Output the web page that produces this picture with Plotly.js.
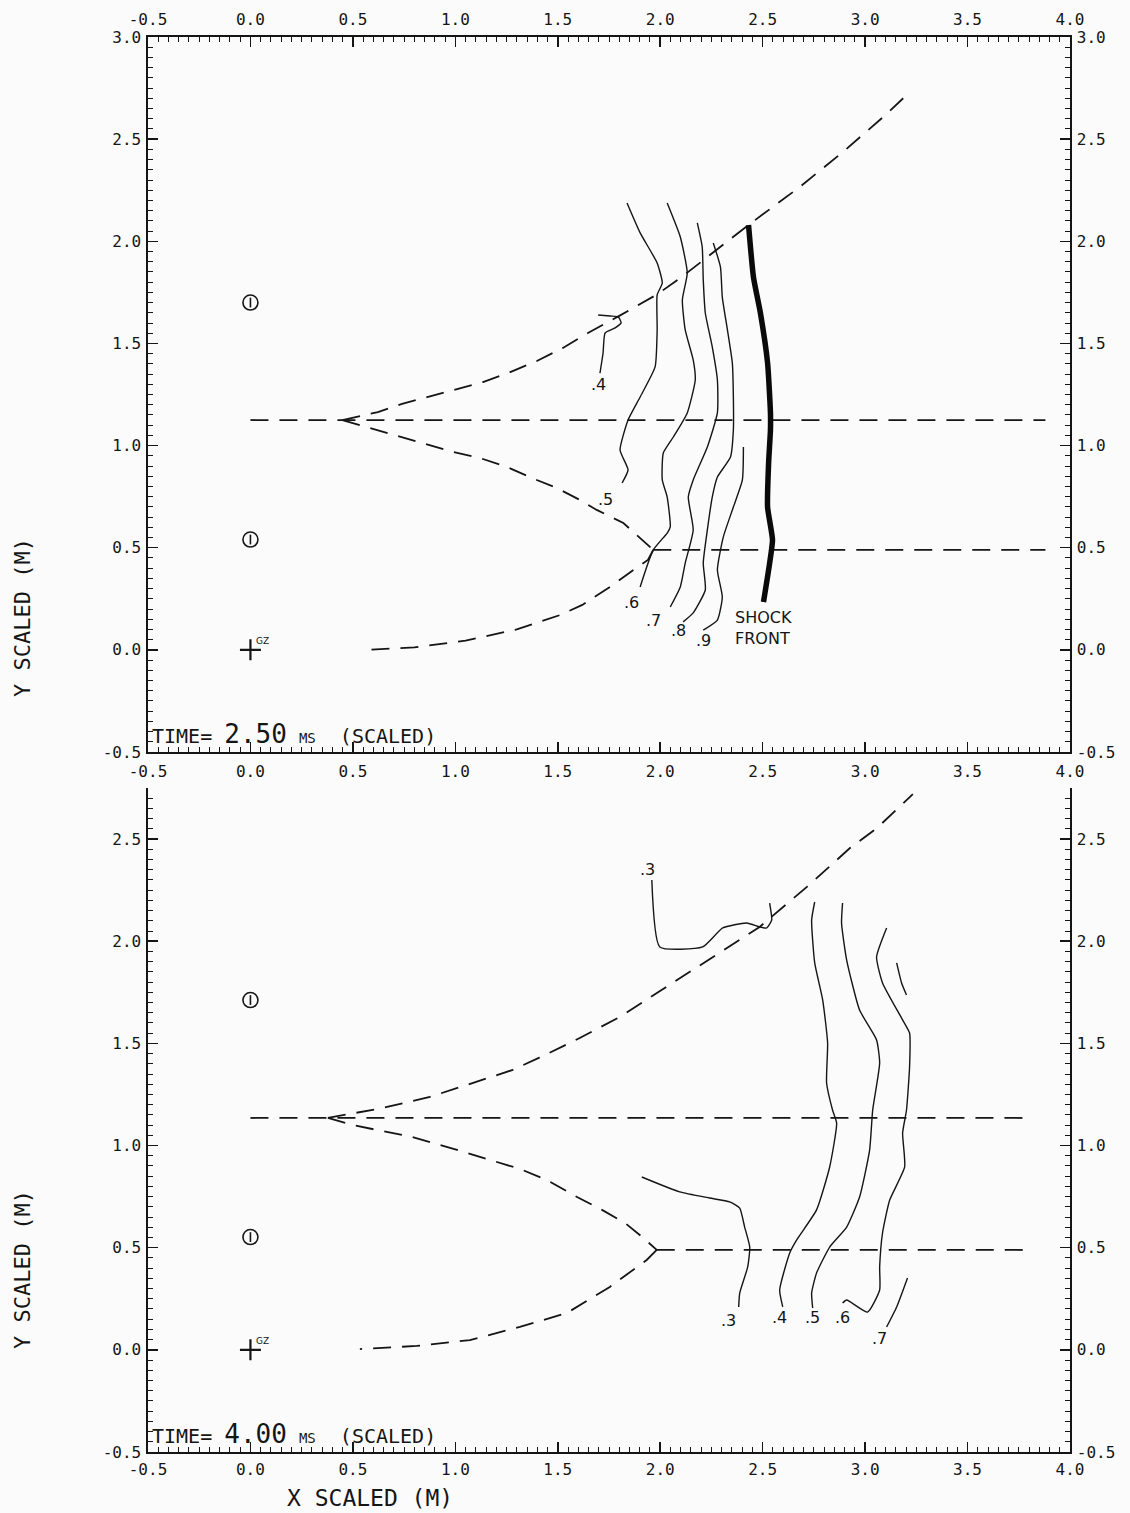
<!DOCTYPE html>
<html>
<head>
<meta charset="utf-8">
<script src="https://cdn.plot.ly/plotly-3.0.1.min.js"></script>
<style>html,body{margin:0;padding:0;background:#fbfbfb;}#chart{width:1130px;height:1513px;}</style>
</head>
<body>
<div id="chart"></div>
<script>
// ---------- tick labels ----------
const xTickVals = [-0.5,0.0,0.5,1.0,1.5,2.0,2.5,3.0,3.5,4.0];
const xTickText = ["-0.5","0.0","0.5","1.0","1.5","2.0","2.5","3.0","3.5","4.0"];
const yTopTickVals = [-0.5,0.0,0.5,1.0,1.5,2.0,2.5,3.0];
const yTopTickText = ["-0.5","0.0","0.5","1.0","1.5","2.0","2.5","3.0"];
const yBotTickVals = [-0.5,0.0,0.5,1.0,1.5,2.0,2.5];
const yBotTickText = ["-0.5","0.0","0.5","1.0","1.5","2.0","2.5"];

// ---------- TOP PANEL (TIME = 2.50 ms) ----------
const topUpperX = [0.449,0.622,0.740,0.862,0.989,1.135,1.257,1.398,1.525,1.647,1.80,1.985,2.111,2.253,2.431,2.68,2.895,3.09,3.208];
const topUpperY = [1.125,1.164,1.204,1.238,1.272,1.311,1.355,1.414,1.478,1.551,1.635,1.74,1.83,1.94,2.08,2.265,2.44,2.61,2.721];
const topLowerX = [0.449,0.666,0.827,0.989,1.120,1.252,1.374,1.496,1.608,1.69,1.82,1.90,1.966];
const topLowerY = [1.125,1.062,1.018,0.969,0.939,0.895,0.841,0.792,0.734,0.685,0.621,0.548,0.489];
const topBottomX = [1.966,1.94,1.89,1.755,1.62,1.51,1.30,1.05,0.80,0.57];
const topBottomY = [0.489,0.44,0.406,0.308,0.22,0.17,0.10,0.045,0.012,0.0];
const topMidX = [0.0,3.88];
const topMidY = [1.125,1.125];
const topStemX = [1.966,3.88];
const topStemY = [0.489,0.489];

const topC4X = [1.706,1.721,1.731,1.78,1.809,1.795,1.756,1.697];
const topC4Y = [1.355,1.453,1.551,1.576,1.60,1.63,1.634,1.639];
const topC5X = [1.838,1.902,1.985,2.010,1.985,1.985,1.975,1.902,1.843,1.804,1.843,1.814];
const topC5Y = [2.187,2.041,1.894,1.796,1.737,1.566,1.385,1.238,1.125,0.978,0.881,0.817];
const topC6X = [2.034,2.098,2.132,2.108,2.122,2.161,2.171,2.132,2.064,2.015,2.010,2.034,2.049,2.034,1.966,1.902];
const topC6Y = [2.187,2.021,1.845,1.713,1.566,1.419,1.321,1.160,1.042,0.964,0.832,0.748,0.602,0.572,0.489,0.308];
const topC7X = [2.181,2.205,2.210,2.220,2.254,2.279,2.279,2.230,2.161,2.137,2.161,2.122,2.098,2.049];
const topC7Y = [2.090,1.972,1.811,1.649,1.483,1.321,1.160,0.993,0.832,0.748,0.587,0.425,0.308,0.210];
const topC8X = [2.259,2.294,2.303,2.328,2.352,2.357,2.357,2.343,2.279,2.254,2.230,2.210,2.220,2.161,2.112];
const topC8Y = [1.992,1.874,1.727,1.566,1.404,1.238,1.076,0.944,0.846,0.748,0.587,0.425,0.293,0.181,0.137];
const topC9X = [2.406,2.401,2.357,2.308,2.279,2.303,2.279,2.210];
const topC9Y = [0.993,0.832,0.699,0.553,0.391,0.259,0.146,0.097];
const shockX = [2.431,2.455,2.489,2.524,2.538,2.538,2.529,2.524,2.548,2.529,2.504];
const shockY = [2.080,1.825,1.649,1.404,1.160,1.076,0.915,0.699,0.538,0.391,0.234];

const topLabelText = [".4",".5",".6",".7",".8",".9"];
const topLabelX = [1.697,1.735,1.862,1.966,2.088,2.210];
const topLabelY = [1.297,0.734,0.234,0.146,0.097,0.048];
const shockLabel = "SHOCK<br>FRONT";
const shockLabelX = 2.357;
const shockLabelY = 0.105;

const topGaugeX = [0.0,0.0];
const topGaugeY = [1.70,0.54];
const gzX = [0.0];
const gzY = [0.0];

// ---------- BOTTOM PANEL (TIME = 4.00 ms) ----------
const botUpperX = [0.378,0.549,0.646,0.876,1.105,1.28,1.41,1.607,1.802,2.046,2.29,2.485,2.716,2.926,3.058,3.233];
const botUpperY = [1.135,1.164,1.184,1.238,1.311,1.37,1.43,1.526,1.629,1.786,1.942,2.07,2.266,2.456,2.554,2.72];
const botLowerX = [0.378,0.50,0.788,1.057,1.316,1.447,1.594,1.716,1.828,1.915,1.983];
const botLowerY = [1.135,1.10,1.042,0.964,0.885,0.831,0.748,0.685,0.621,0.55,0.489];
const botBottomX = [1.983,1.934,1.754,1.544,1.315,1.071,0.812,0.534];
const botBottomY = [0.489,0.44,0.308,0.18,0.112,0.048,0.019,0.004];
const botMidX = [0.0,3.805];
const botMidY = [1.135,1.135];
const botStemX = [1.983,3.805];
const botStemY = [0.489,0.489];

const botC3aX = [1.959,1.998,2.207,2.305,2.422,2.485,2.52,2.544,2.534];
const botC3aY = [2.30,1.972,1.972,2.065,2.089,2.07,2.065,2.104,2.187];
const botC3bX = [1.910,2.095,2.241,2.339,2.388,2.412,2.437,2.427,2.388,2.383];
const botC3bY = [0.846,0.773,0.743,0.724,0.694,0.601,0.503,0.406,0.278,0.21];
const botC4X = [2.754,2.739,2.754,2.793,2.817,2.812,2.841,2.861,2.827,2.763,2.666,2.632,2.583,2.598];
const botC4Y = [2.192,2.104,1.894,1.712,1.502,1.306,1.174,1.110,0.895,0.685,0.538,0.474,0.293,0.21];
const botC5X = [2.890,2.885,2.910,2.973,3.056,3.071,3.037,3.022,2.973,2.910,2.827,2.763,2.739,2.744];
const botC5Y = [2.187,2.089,1.908,1.663,1.517,1.404,1.174,0.978,0.748,0.601,0.503,0.376,0.278,0.205];
const botC6X = [3.105,3.056,3.085,3.183,3.217,3.217,3.202,3.183,3.193,3.12,3.085,3.071,3.071,3.012,2.910,2.890];
const botC6Y = [2.065,1.923,1.796,1.615,1.551,1.384,1.174,1.061,0.895,0.733,0.572,0.406,0.293,0.185,0.244,0.229];
const botC7aX = [3.154,3.178,3.202];
const botC7aY = [1.894,1.796,1.737];
const botC7bX = [3.207,3.154,3.105];
const botC7bY = [0.352,0.21,0.112];

const botLabelText = [".3",".3",".4",".5",".6",".7"];
const botLabelX = [1.939,2.331,2.584,2.745,2.892,3.072];
const botLabelY = [2.349,0.146,0.156,0.156,0.156,0.058];

const botGaugeX = [0.0,0.0];
const botGaugeY = [1.712,0.552];

// ---------- layout geometry ----------
const W = 1130, H = 1513;
const xDom = [148/W, 1070/W];
const topDom = [1-752/H, 1-37/H];
const botDom = [1-1452/H, 1-788/H];

const INK = '#151515';
const tickFont = {family:'DejaVu Sans Mono', size:16, color:INK};
const labelFont = {family:'DejaVu Sans', size:16, color:INK};

function axisBase(extra){
  return Object.assign({
    showline:true, linecolor:INK, linewidth:1.6,
    ticks:'inside', ticklen:10, tickwidth:1.5, tickcolor:INK,
    tickmode:'array', tickfont:tickFont,
    minor:{ticks:'inside', ticklen:5, tickwidth:1, tickcolor:INK, tickmode:'linear', tick0:-0.5, dtick:0.05},
    showgrid:false, zeroline:false, fixedrange:true
  }, extra);
}

const dashStyle = {color:INK, width:1.8, dash:'18px,11px'};
const solid = {color:INK, width:1.4, shape:'spline', smoothing:0.5};

function line(x, y, style, xa, ya){
  return {type:'scatter', mode:'lines', x:x, y:y, line:style, xaxis:xa, yaxis:ya, hoverinfo:'skip', showlegend:false};
}

const traces = [];
// top panel
traces.push(line(topUpperX, topUpperY, dashStyle, 'x', 'y'));
traces.push(line(topLowerX, topLowerY, dashStyle, 'x', 'y'));
traces.push(line(topBottomX, topBottomY, dashStyle, 'x', 'y'));
traces.push(line(topMidX, topMidY, dashStyle, 'x', 'y'));
traces.push(line(topStemX, topStemY, dashStyle, 'x', 'y'));
[[topC4X,topC4Y],[topC5X,topC5Y],[topC6X,topC6Y],[topC7X,topC7Y],[topC8X,topC8Y],[topC9X,topC9Y]].forEach(c=>{
  traces.push(line(c[0], c[1], solid, 'x', 'y'));
});
traces.push(line(shockX, shockY, {color:'#0a0a0a', width:5.5, shape:'spline', smoothing:0.5}, 'x', 'y'));
// bottom panel
traces.push(line(botUpperX, botUpperY, dashStyle, 'x2', 'y2'));
traces.push(line(botLowerX, botLowerY, dashStyle, 'x2', 'y2'));
traces.push(line(botBottomX, botBottomY, dashStyle, 'x2', 'y2'));
traces.push(line(botMidX, botMidY, dashStyle, 'x2', 'y2'));
traces.push(line(botStemX, botStemY, dashStyle, 'x2', 'y2'));
[[botC3aX,botC3aY],[botC3bX,botC3bY],[botC4X,botC4Y],[botC5X,botC5Y],[botC6X,botC6Y],[botC7aX,botC7aY],[botC7bX,botC7bY]].forEach(c=>{
  traces.push(line(c[0], c[1], solid, 'x2', 'y2'));
});

// gauge symbols and ground zero
function gauges(x, y, xa, ya){
  return [
    {type:'scatter', mode:'markers', x:x, y:y, xaxis:xa, yaxis:ya, hoverinfo:'skip', showlegend:false,
     marker:{symbol:'circle-open', size:15, color:INK, line:{width:1.6, color:INK}}},
    {type:'scatter', mode:'markers', x:x, y:y, xaxis:xa, yaxis:ya, hoverinfo:'skip', showlegend:false,
     marker:{symbol:'line-ns-open', size:7, color:INK, line:{width:1.6, color:INK}}}
  ];
}
traces.push(...gauges(topGaugeX, topGaugeY, 'x', 'y'));
traces.push(...gauges(botGaugeX, botGaugeY, 'x2', 'y2'));
traces.push({type:'scatter', mode:'markers', x:gzX, y:gzY, xaxis:'x', yaxis:'y', hoverinfo:'skip', showlegend:false,
  marker:{symbol:'cross-thin-open', size:15, color:INK, line:{width:2.2, color:INK}}});
traces.push({type:'scatter', mode:'markers', x:gzX, y:gzY, xaxis:'x2', yaxis:'y2', hoverinfo:'skip', showlegend:false,
  marker:{symbol:'cross-thin-open', size:15, color:INK, line:{width:2.2, color:INK}}});

// dummy traces so the mirrored label axes are drawn
traces.push({type:'scatter', x:[null], y:[null], xaxis:'x3', yaxis:'y', hoverinfo:'skip', showlegend:false});
traces.push({type:'scatter', x:[null], y:[null], xaxis:'x', yaxis:'y3', hoverinfo:'skip', showlegend:false});
traces.push({type:'scatter', x:[null], y:[null], xaxis:'x2', yaxis:'y4', hoverinfo:'skip', showlegend:false});

// annotations
const annotations = [];
topLabelText.forEach((t,i)=>annotations.push({x:topLabelX[i], y:topLabelY[i], xref:'x', yref:'y', text:t, showarrow:false, font:labelFont}));
annotations.push({x:shockLabelX, y:shockLabelY, xref:'x', yref:'y', text:shockLabel, showarrow:false, xanchor:'left', align:'left',
  font:{family:'DejaVu Sans', size:16, color:INK}});
botLabelText.forEach((t,i)=>annotations.push({x:botLabelX[i], y:botLabelY[i], xref:'x2', yref:'y2', text:t, showarrow:false, font:labelFont}));
annotations.push({x:gzX[0], y:gzY[0], xref:'x', yref:'y', text:'GZ', showarrow:false, xshift:12, yshift:9, font:{family:'DejaVu Sans', size:9, color:INK}});
annotations.push({x:gzX[0], y:gzY[0], xref:'x2', yref:'y2', text:'GZ', showarrow:false, xshift:12, yshift:9, font:{family:'DejaVu Sans', size:9, color:INK}});
const timeTop = 'TIME=&nbsp;<span style="font-size:26px">2.50</span>&nbsp;<span style="font-size:14px">MS</span>&nbsp;&nbsp;(SCALED)';
const timeBot = 'TIME=&nbsp;<span style="font-size:26px">4.00</span>&nbsp;<span style="font-size:14px">MS</span>&nbsp;&nbsp;(SCALED)';
annotations.push({x:-0.49, y:-0.5, xref:'x', yref:'y', xanchor:'left', yanchor:'bottom', yshift:1, showarrow:false,
  text:timeTop, font:{family:'DejaVu Sans Mono', size:20, color:INK}});
annotations.push({x:-0.49, y:-0.5, xref:'x2', yref:'y2', xanchor:'left', yanchor:'bottom', yshift:1, showarrow:false,
  text:timeBot, font:{family:'DejaVu Sans Mono', size:20, color:INK}});
annotations.push({x:22/W, y:1-618/H, xref:'paper', yref:'paper', xanchor:'center', yanchor:'middle', text:'Y SCALED (M)', textangle:-90, showarrow:false,
  font:{family:'DejaVu Sans Mono', size:22, color:INK}});
annotations.push({x:22/W, y:1-1270/H, xref:'paper', yref:'paper', xanchor:'center', yanchor:'middle', text:'Y SCALED (M)', textangle:-90, showarrow:false,
  font:{family:'DejaVu Sans Mono', size:22, color:INK}});
annotations.push({x:370/W, y:1-1498/H, xref:'paper', yref:'paper', xanchor:'center', yanchor:'middle', text:'X SCALED (M)', showarrow:false,
  font:{family:'DejaVu Sans Mono', size:23, color:INK}});

const layout = {
  width:W, height:H,
  margin:{l:0, r:0, t:0, b:0},
  paper_bgcolor:'#fbfbfb', plot_bgcolor:'#fbfbfb',
  showlegend:false,
  xaxis: axisBase({domain:xDom, anchor:'y', range:[-0.5,4.0], tickvals:xTickVals, ticktext:xTickText, side:'bottom', ticklabelstandoff:4}),
  xaxis3: axisBase({overlaying:'x', anchor:'y', side:'top', range:[-0.5,4.0], tickvals:xTickVals, ticktext:xTickText, ticklabelstandoff:4}),
  yaxis: axisBase({domain:topDom, anchor:'x', range:[-0.5,3.0], tickvals:yTopTickVals, ticktext:yTopTickText, side:'left', ticklabelstandoff:2}),
  yaxis3: axisBase({overlaying:'y', anchor:'x', side:'right', range:[-0.5,3.0], tickvals:yTopTickVals, ticktext:yTopTickText, ticklabelstandoff:2}),
  xaxis2: axisBase({domain:xDom, anchor:'y2', range:[-0.5,4.0], tickvals:xTickVals, ticktext:xTickText, side:'bottom', ticklabelstandoff:2}),
  yaxis2: axisBase({domain:botDom, anchor:'x2', range:[-0.5,2.75], tickvals:yBotTickVals, ticktext:yBotTickText, side:'left', ticklabelstandoff:2}),
  yaxis4: axisBase({overlaying:'y2', anchor:'x2', side:'right', range:[-0.5,2.75], tickvals:yBotTickVals, ticktext:yBotTickText, ticklabelstandoff:2}),
  annotations: annotations
};

Plotly.newPlot('chart', traces, layout, {staticPlot:true, displayModeBar:false});
</script>
</body>
</html>
